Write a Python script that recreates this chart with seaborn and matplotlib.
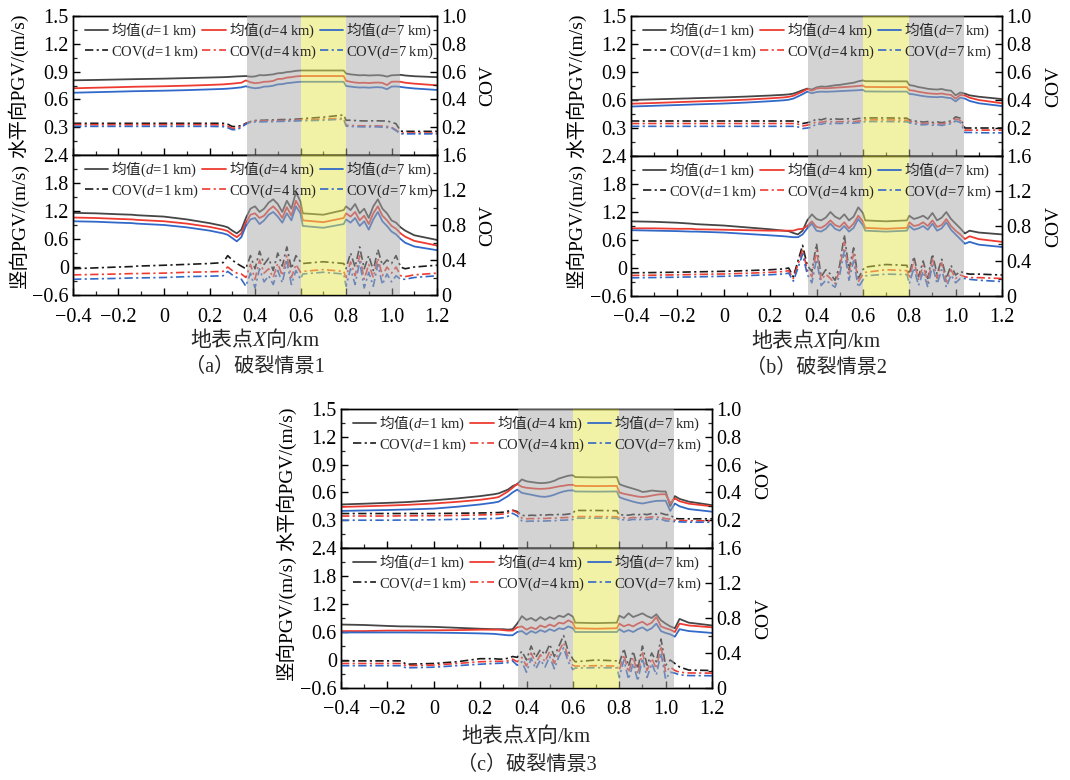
import matplotlib.pyplot as plt
import seaborn as sns
from matplotlib.ticker import FixedLocator, MultipleLocator, FuncFormatter

# x positions (km) shared by every curve
X = [-0.40, -0.30, -0.20, -0.14, -0.12, 0.00, 0.10, 0.20, 0.26, 0.28, 0.30, 0.32, 0.34, 0.36,
     0.38, 0.40, 0.42, 0.44, 0.46, 0.48, 0.50, 0.52, 0.54, 0.56, 0.58, 0.60,
     0.61, 0.70, 0.79,
     0.80, 0.82, 0.84, 0.86, 0.88, 0.90, 0.92, 0.94, 0.96, 0.98, 1.00, 1.02,
     1.04, 1.06, 1.10, 1.20]

# ---------------- scenario 1 ----------------
A_HOR_MEAN_D1 = [0.806, 0.810, 0.815, 0.818, 0.819, 0.824, 0.830, 0.836, 0.840, 0.842, 0.845, 0.848, 0.850, 0.852,
                 0.845, 0.848, 0.862, 0.860, 0.865, 0.870, 0.882, 0.885, 0.895, 0.900, 0.908, 0.912,
                 0.912, 0.912, 0.912,
                 0.880, 0.870, 0.865, 0.860, 0.862, 0.858, 0.860, 0.862, 0.858, 0.846, 0.860, 0.862,
                 0.865, 0.858, 0.850, 0.840]
A_HOR_MEAN_D4 = [0.720, 0.726, 0.732, 0.736, 0.737, 0.742, 0.748, 0.756, 0.762, 0.766, 0.770, 0.775, 0.780, 0.805,
                 0.785, 0.775, 0.780, 0.790, 0.792, 0.800, 0.820, 0.822, 0.835, 0.840, 0.848, 0.852,
                 0.852, 0.852, 0.852,
                 0.800, 0.790, 0.782, 0.778, 0.780, 0.776, 0.780, 0.782, 0.778, 0.755, 0.790, 0.792,
                 0.790, 0.780, 0.770, 0.752]
A_HOR_MEAN_D7 = [0.672, 0.678, 0.684, 0.688, 0.689, 0.694, 0.700, 0.708, 0.713, 0.716, 0.720, 0.725, 0.730, 0.742,
                 0.728, 0.720, 0.725, 0.738, 0.740, 0.748, 0.762, 0.765, 0.775, 0.780, 0.786, 0.790,
                 0.790, 0.790, 0.790,
                 0.745, 0.738, 0.732, 0.728, 0.730, 0.726, 0.730, 0.732, 0.728, 0.710, 0.738, 0.740,
                 0.735, 0.728, 0.718, 0.702]
A_HOR_COV_D1 = [0.228, 0.228, 0.228, 0.228, 0.228, 0.228, 0.228, 0.228, 0.228, 0.222, 0.205, 0.205, 0.212, 0.228,
                0.240, 0.248, 0.250, 0.250, 0.252, 0.252, 0.254, 0.255, 0.255, 0.256, 0.258, 0.260,
                0.262, 0.272, 0.288,
                0.250, 0.250, 0.248, 0.246, 0.245, 0.245, 0.246, 0.246, 0.245, 0.245, 0.236, 0.225,
                0.172, 0.170, 0.170, 0.170]
A_HOR_COV_D4 = [0.218, 0.218, 0.218, 0.218, 0.218, 0.218, 0.218, 0.218, 0.216, 0.208, 0.192, 0.192, 0.205, 0.225,
                0.240, 0.244, 0.244, 0.245, 0.246, 0.246, 0.247, 0.248, 0.248, 0.249, 0.250, 0.252,
                0.252, 0.258, 0.265,
                0.215, 0.212, 0.212, 0.210, 0.210, 0.210, 0.210, 0.210, 0.208, 0.206, 0.200, 0.180,
                0.158, 0.158, 0.158, 0.158]
A_HOR_COV_D7 = [0.206, 0.206, 0.206, 0.206, 0.206, 0.206, 0.206, 0.206, 0.204, 0.196, 0.182, 0.182, 0.198, 0.222,
                0.236, 0.238, 0.238, 0.239, 0.240, 0.240, 0.241, 0.242, 0.243, 0.244, 0.245, 0.246,
                0.246, 0.250, 0.258,
                0.208, 0.205, 0.204, 0.203, 0.202, 0.202, 0.203, 0.202, 0.200, 0.198, 0.195, 0.175,
                0.152, 0.152, 0.152, 0.152]
A_VER_MEAN_D1 = [1.16, 1.15, 1.13, 1.12, 1.11, 1.08, 1.02, 0.94, 0.88, 0.85, 0.78, 0.72, 0.80, 1.05,
                 1.25, 1.30, 1.18, 1.25, 1.38, 1.45, 1.35, 1.18, 1.42, 1.25, 1.60, 1.40,
                 1.15, 1.12, 1.22,
                 1.30, 1.22, 1.35, 1.15, 1.25, 1.05, 1.30, 1.45, 1.25, 1.15, 1.00, 0.95,
                 0.85, 0.78, 0.68, 0.58]
A_VER_MEAN_D4 = [1.06, 1.05, 1.03, 1.02, 1.01, 0.98, 0.93, 0.86, 0.80, 0.77, 0.70, 0.64, 0.72, 0.95,
                 1.12, 1.15, 1.05, 1.10, 1.22, 1.30, 1.20, 1.05, 1.28, 1.10, 1.42, 1.25,
                 1.00, 0.96, 1.05,
                 1.15, 1.08, 1.18, 1.00, 1.10, 0.92, 1.15, 1.30, 1.10, 1.00, 0.88, 0.82,
                 0.72, 0.65, 0.56, 0.46]
A_VER_MEAN_D7 = [0.98, 0.97, 0.95, 0.94, 0.93, 0.90, 0.85, 0.78, 0.72, 0.69, 0.62, 0.55, 0.64, 0.88,
                 1.02, 1.05, 0.92, 1.00, 1.12, 1.18, 1.08, 0.95, 1.15, 1.00, 1.30, 1.15,
                 0.88, 0.84, 0.92,
                 1.02, 0.95, 1.05, 0.88, 0.98, 0.80, 1.02, 1.18, 0.98, 0.88, 0.76, 0.70,
                 0.60, 0.52, 0.44, 0.36]
A_VER_COV_D1 = [0.30, 0.31, 0.32, 0.325, 0.33, 0.34, 0.35, 0.36, 0.37, 0.45, 0.40, 0.36, 0.33, 0.30,
                0.45, 0.30, 0.50, 0.35, 0.42, 0.28, 0.48, 0.33, 0.55, 0.30, 0.45, 0.38,
                0.36, 0.38, 0.36,
                0.30, 0.48, 0.32, 0.55, 0.30, 0.45, 0.28, 0.52, 0.34, 0.40, 0.36, 0.45,
                0.32, 0.30, 0.32, 0.34]
A_VER_COV_D4 = [0.23, 0.235, 0.24, 0.245, 0.245, 0.25, 0.26, 0.265, 0.27, 0.32, 0.28, 0.25, 0.24, 0.20,
                0.35, 0.18, 0.40, 0.25, 0.30, 0.20, 0.36, 0.22, 0.45, 0.20, 0.35, 0.26,
                0.27, 0.29, 0.27,
                0.20, 0.38, 0.22, 0.45, 0.18, 0.35, 0.20, 0.42, 0.22, 0.32, 0.25, 0.32,
                0.22, 0.21, 0.23, 0.25]
A_VER_COV_D7 = [0.18, 0.185, 0.19, 0.195, 0.195, 0.20, 0.21, 0.215, 0.22, 0.27, 0.23, 0.20, 0.18, 0.10,
                0.25, 0.08, 0.30, 0.15, 0.22, 0.12, 0.28, 0.14, 0.38, 0.12, 0.28, 0.18,
                0.24, 0.26, 0.24,
                0.10, 0.30, 0.12, 0.38, 0.08, 0.26, 0.10, 0.35, 0.12, 0.24, 0.15, 0.22,
                0.18, 0.18, 0.20, 0.22]

# ---------------- scenario 2 ----------------
B_HOR_MEAN_D1 = [0.600, 0.607, 0.614, 0.618, 0.620, 0.628, 0.637, 0.648, 0.656, 0.660, 0.668, 0.685, 0.705, 0.722,
                 0.712, 0.735, 0.745, 0.742, 0.750, 0.758, 0.762, 0.770, 0.778, 0.785, 0.800, 0.810,
                 0.802, 0.800, 0.800,
                 0.760, 0.752, 0.738, 0.730, 0.720, 0.715, 0.712, 0.718, 0.705, 0.700, 0.650, 0.680,
                 0.668, 0.650, 0.635, 0.610]
B_HOR_MEAN_D4 = [0.560, 0.568, 0.577, 0.582, 0.584, 0.593, 0.604, 0.618, 0.628, 0.634, 0.645, 0.668, 0.690, 0.718,
                 0.700, 0.722, 0.728, 0.725, 0.728, 0.732, 0.735, 0.738, 0.742, 0.745, 0.750, 0.755,
                 0.740, 0.738, 0.738,
                 0.705, 0.700, 0.688, 0.680, 0.672, 0.668, 0.665, 0.670, 0.660, 0.655, 0.615, 0.655,
                 0.648, 0.625, 0.600, 0.565]
B_HOR_MEAN_D7 = [0.530, 0.538, 0.546, 0.551, 0.553, 0.562, 0.573, 0.587, 0.597, 0.603, 0.615, 0.638, 0.662, 0.690,
                 0.672, 0.685, 0.690, 0.688, 0.690, 0.692, 0.695, 0.697, 0.700, 0.702, 0.705, 0.708,
                 0.692, 0.690, 0.690,
                 0.665, 0.660, 0.650, 0.642, 0.635, 0.632, 0.630, 0.634, 0.625, 0.620, 0.585, 0.625,
                 0.615, 0.590, 0.565, 0.535]
B_HOR_COV_D1 = [0.250, 0.250, 0.250, 0.250, 0.250, 0.250, 0.250, 0.250, 0.250, 0.250, 0.250, 0.245, 0.232, 0.238,
                0.245, 0.265, 0.258, 0.268, 0.262, 0.266, 0.262, 0.265, 0.266, 0.262, 0.268, 0.270,
                0.272, 0.272, 0.270,
                0.258, 0.250, 0.248, 0.242, 0.246, 0.240, 0.244, 0.238, 0.245, 0.250, 0.280, 0.270,
                0.200, 0.200, 0.200, 0.200]
B_HOR_COV_D4 = [0.232, 0.232, 0.232, 0.232, 0.232, 0.232, 0.232, 0.232, 0.232, 0.232, 0.232, 0.228, 0.215, 0.220,
                0.228, 0.245, 0.240, 0.248, 0.244, 0.246, 0.244, 0.246, 0.248, 0.245, 0.250, 0.252,
                0.258, 0.258, 0.256,
                0.248, 0.240, 0.238, 0.232, 0.236, 0.230, 0.234, 0.228, 0.236, 0.240, 0.265, 0.255,
                0.185, 0.185, 0.185, 0.185]
B_HOR_COV_D7 = [0.212, 0.212, 0.212, 0.212, 0.212, 0.212, 0.212, 0.212, 0.212, 0.212, 0.212, 0.208, 0.196, 0.200,
                0.205, 0.232, 0.226, 0.235, 0.230, 0.234, 0.232, 0.234, 0.236, 0.234, 0.238, 0.240,
                0.246, 0.246, 0.244,
                0.238, 0.230, 0.226, 0.222, 0.226, 0.220, 0.224, 0.218, 0.225, 0.230, 0.250, 0.240,
                0.168, 0.168, 0.166, 0.165]
B_VER_MEAN_D1 = [1.00, 0.99, 0.97, 0.95, 0.94, 0.91, 0.87, 0.83, 0.80, 0.79, 0.75, 0.72, 0.80, 1.02,
                 1.15, 1.05, 1.02, 1.08, 1.20, 1.10, 1.05, 1.15, 1.02, 1.10, 1.30, 1.18,
                 1.02, 1.00, 1.02,
                 1.12, 1.05, 1.08, 1.12, 1.05, 1.18, 1.02, 1.08, 1.20, 1.05, 0.95, 0.85,
                 0.74, 0.80, 0.76, 0.72]
B_VER_MEAN_D4 = [0.85, 0.85, 0.84, 0.84, 0.83, 0.82, 0.81, 0.80, 0.80, 0.80, 0.80, 0.83, 0.84, 0.90,
                 1.00, 0.88, 0.86, 0.92, 1.02, 0.92, 0.88, 0.98, 0.85, 0.95, 1.12, 1.00,
                 0.86, 0.84, 0.86,
                 0.98, 0.90, 0.92, 0.98, 0.90, 1.02, 0.88, 0.92, 1.05, 0.90, 0.80, 0.72,
                 0.62, 0.68, 0.62, 0.56]
B_VER_MEAN_D7 = [0.81, 0.80, 0.79, 0.78, 0.78, 0.76, 0.73, 0.70, 0.68, 0.67, 0.66, 0.66, 0.72, 0.85,
                 0.95, 0.80, 0.78, 0.84, 0.95, 0.84, 0.80, 0.90, 0.78, 0.86, 1.05, 0.92,
                 0.80, 0.78, 0.80,
                 0.90, 0.82, 0.85, 0.90, 0.82, 0.95, 0.80, 0.85, 0.98, 0.82, 0.72, 0.62,
                 0.52, 0.56, 0.50, 0.45]
B_VER_COV_D1 = [0.265, 0.268, 0.272, 0.275, 0.276, 0.282, 0.290, 0.300, 0.310, 0.320, 0.220, 0.400, 0.580, 0.350,
                0.280, 0.600, 0.220, 0.300, 0.250, 0.180, 0.350, 0.700, 0.300, 0.550, 0.200, 0.300,
                0.330, 0.360, 0.350,
                0.250, 0.450, 0.220, 0.400, 0.200, 0.480, 0.250, 0.420, 0.200, 0.350, 0.240, 0.280,
                0.260, 0.250, 0.250, 0.240]
B_VER_COV_D4 = [0.235, 0.238, 0.242, 0.245, 0.246, 0.252, 0.260, 0.270, 0.280, 0.290, 0.200, 0.360, 0.530, 0.300,
                0.220, 0.520, 0.180, 0.250, 0.200, 0.140, 0.300, 0.620, 0.250, 0.480, 0.160, 0.250,
                0.270, 0.300, 0.290,
                0.200, 0.400, 0.180, 0.350, 0.160, 0.420, 0.200, 0.380, 0.160, 0.300, 0.200, 0.240,
                0.220, 0.210, 0.210, 0.200]
B_VER_COV_D7 = [0.208, 0.211, 0.215, 0.218, 0.219, 0.225, 0.233, 0.243, 0.252, 0.262, 0.170, 0.320, 0.480, 0.250,
                0.150, 0.420, 0.120, 0.180, 0.140, 0.100, 0.240, 0.520, 0.180, 0.400, 0.100, 0.180,
                0.230, 0.250, 0.245,
                0.140, 0.320, 0.120, 0.280, 0.100, 0.350, 0.140, 0.300, 0.100, 0.240, 0.150, 0.200,
                0.200, 0.190, 0.180, 0.165]

# ---------------- scenario 3 ----------------
C_HOR_MEAN_D1 = [0.470, 0.478, 0.487, 0.493, 0.495, 0.515, 0.535, 0.560, 0.580, 0.590, 0.610, 0.630, 0.667, 0.690,
                 0.740, 0.720, 0.712, 0.705, 0.700, 0.702, 0.710, 0.725, 0.750, 0.765, 0.780, 0.785,
                 0.765, 0.762, 0.765,
                 0.690, 0.670, 0.655, 0.640, 0.625, 0.605, 0.610, 0.620, 0.615, 0.610, 0.610, 0.450,
                 0.560, 0.530, 0.500, 0.462]
C_HOR_MEAN_D4 = [0.443, 0.450, 0.458, 0.463, 0.465, 0.480, 0.498, 0.520, 0.540, 0.550, 0.580, 0.610, 0.650, 0.690,
                 0.660, 0.650, 0.645, 0.640, 0.638, 0.640, 0.645, 0.655, 0.665, 0.672, 0.680, 0.682,
                 0.670, 0.668, 0.670,
                 0.600, 0.585, 0.575, 0.565, 0.555, 0.550, 0.556, 0.565, 0.575, 0.580, 0.580, 0.485,
                 0.535, 0.505, 0.478, 0.450]
C_HOR_MEAN_D7 = [0.400, 0.405, 0.410, 0.414, 0.415, 0.425, 0.445, 0.470, 0.490, 0.500, 0.530, 0.560, 0.600, 0.630,
                 0.595, 0.585, 0.575, 0.565, 0.555, 0.552, 0.560, 0.575, 0.595, 0.610, 0.620, 0.622,
                 0.610, 0.608, 0.610,
                 0.550, 0.530, 0.515, 0.500, 0.488, 0.480, 0.490, 0.500, 0.508, 0.510, 0.510, 0.400,
                 0.480, 0.450, 0.420, 0.392]
C_HOR_COV_D1 = [0.248, 0.248, 0.248, 0.248, 0.248, 0.248, 0.250, 0.252, 0.254, 0.255, 0.258, 0.265, 0.272, 0.262,
                0.235, 0.232, 0.236, 0.234, 0.238, 0.236, 0.240, 0.238, 0.242, 0.240, 0.244, 0.250,
                0.270, 0.270, 0.268,
                0.235, 0.240, 0.236, 0.242, 0.238, 0.245, 0.240, 0.248, 0.242, 0.250, 0.240, 0.238,
                0.212, 0.210, 0.210, 0.210]
C_HOR_COV_D4 = [0.230, 0.230, 0.230, 0.231, 0.231, 0.232, 0.234, 0.238, 0.240, 0.242, 0.245, 0.252, 0.270, 0.255,
                0.215, 0.210, 0.212, 0.210, 0.214, 0.212, 0.215, 0.214, 0.218, 0.218, 0.220, 0.224,
                0.226, 0.226, 0.225,
                0.215, 0.218, 0.214, 0.220, 0.216, 0.222, 0.218, 0.224, 0.220, 0.222, 0.210, 0.208,
                0.200, 0.198, 0.196, 0.195]
C_HOR_COV_D7 = [0.200, 0.200, 0.200, 0.201, 0.201, 0.203, 0.206, 0.210, 0.212, 0.214, 0.218, 0.228, 0.250, 0.232,
                0.195, 0.192, 0.194, 0.192, 0.195, 0.194, 0.196, 0.196, 0.200, 0.200, 0.202, 0.205,
                0.214, 0.215, 0.214,
                0.200, 0.204, 0.200, 0.206, 0.202, 0.208, 0.204, 0.210, 0.206, 0.208, 0.195, 0.193,
                0.190, 0.188, 0.186, 0.185]
C_VER_MEAN_D1 = [0.76, 0.75, 0.73, 0.72, 0.72, 0.71, 0.69, 0.67, 0.66, 0.66, 0.66, 0.65, 0.66, 0.78,
                 0.94, 0.86, 0.90, 0.84, 0.92, 0.86, 0.92, 0.88, 0.95, 0.92, 0.99, 0.93,
                 0.80, 0.79, 0.80,
                 0.95, 0.90, 1.00, 0.92, 0.96, 1.00, 0.94, 0.90, 0.98, 0.85, 0.78, 0.72,
                 0.68, 0.88, 0.80, 0.74]
C_VER_MEAN_D4 = [0.62, 0.62, 0.63, 0.63, 0.63, 0.636, 0.64, 0.65, 0.65, 0.65, 0.64, 0.63, 0.63, 0.70,
                 0.72, 0.65, 0.70, 0.66, 0.74, 0.70, 0.76, 0.72, 0.80, 0.78, 0.85, 0.80,
                 0.68, 0.67, 0.68,
                 0.78, 0.72, 0.76, 0.72, 0.78, 0.82, 0.75, 0.80, 0.92, 0.72, 0.68, 0.65,
                 0.60, 0.78, 0.74, 0.70]
C_VER_MEAN_D7 = [0.59, 0.59, 0.59, 0.59, 0.59, 0.586, 0.58, 0.57, 0.56, 0.55, 0.54, 0.53, 0.53, 0.60,
                 0.62, 0.55, 0.62, 0.58, 0.64, 0.60, 0.66, 0.62, 0.68, 0.66, 0.72, 0.68,
                 0.60, 0.60, 0.60,
                 0.66, 0.60, 0.64, 0.60, 0.66, 0.70, 0.63, 0.68, 0.78, 0.62, 0.58, 0.55,
                 0.50, 0.66, 0.62, 0.58]
C_VER_COV_D1 = [0.310, 0.310, 0.310, 0.310, 0.272, 0.280, 0.300, 0.335, 0.335, 0.330, 0.330, 0.340, 0.360, 0.350,
                0.420, 0.320, 0.480, 0.350, 0.440, 0.380, 0.500, 0.360, 0.480, 0.600, 0.420, 0.330,
                0.300, 0.320, 0.310,
                0.280, 0.450, 0.250, 0.420, 0.220, 0.480, 0.260, 0.400, 0.300, 0.560, 0.260, 0.320,
                0.280, 0.240, 0.205, 0.200]
C_VER_COV_D4 = [0.280, 0.280, 0.280, 0.280, 0.255, 0.262, 0.280, 0.300, 0.305, 0.305, 0.305, 0.310, 0.330, 0.300,
                0.350, 0.250, 0.400, 0.280, 0.380, 0.300, 0.420, 0.280, 0.420, 0.520, 0.350, 0.260,
                0.250, 0.255, 0.250,
                0.200, 0.380, 0.180, 0.350, 0.160, 0.400, 0.200, 0.340, 0.220, 0.480, 0.180, 0.240,
                0.200, 0.180, 0.172, 0.170]
C_VER_COV_D7 = [0.255, 0.255, 0.255, 0.255, 0.230, 0.238, 0.255, 0.272, 0.280, 0.282, 0.285, 0.290, 0.310, 0.260,
                0.300, 0.180, 0.340, 0.220, 0.320, 0.240, 0.360, 0.220, 0.360, 0.460, 0.300, 0.210,
                0.228, 0.232, 0.230,
                0.120, 0.320, 0.100, 0.280, 0.080, 0.340, 0.120, 0.280, 0.150, 0.400, 0.100, 0.180,
                0.170, 0.150, 0.142, 0.140]

DISTANCES = ["1", "4", "7"]
GRAY_ZONE = (0.365, 1.038)
YELLOW_ZONE = (0.60, 0.80)
CAPTIONS = ["（a）破裂情景1", "（b）破裂情景2", "（c）破裂情景3"]

MEAN_COLORS = ["#464646", "#ee3b32", "#3269c8"]
COV_COLORS = ["#1a1a1a", "#ee3b32", "#3269c8"]
COV_DASH = (0, (5, 2, 1.3, 2))

sns.set_theme(style="ticks")
plt.rcParams["font.family"] = ["Liberation Serif", "Noto Sans CJK SC"]
plt.rcParams["mathtext.fontset"] = "custom"
plt.rcParams["mathtext.rm"] = "Liberation Serif"
plt.rcParams["mathtext.it"] = "Liberation Serif:italic"
plt.rcParams["mathtext.bf"] = "Liberation Serif:bold"
plt.rcParams["axes.edgecolor"] = "black"
plt.rcParams["axes.linewidth"] = 1.0
plt.rcParams["xtick.direction"] = "in"
plt.rcParams["ytick.direction"] = "in"

W, H = 1070, 780


def px_rect(x0, y0, x1, y1):
    return [x0 / W, 1 - y1 / H, (x1 - x0) / W, (y1 - y0) / H]


def tick_fmt(v, pos):
    if abs(v) < 1e-9:
        return "0"
    return f"{v:.1f}".replace("-", "\u2212")


def draw_sub(fig, rect, means, covs, kind):
    ax = fig.add_axes(rect)
    ax2 = ax.twinx()
    handles = []
    for i in range(3):
        sns.lineplot(x=X, y=means[i], ax=ax, color=MEAN_COLORS[i], linewidth=1.3, legend=False)
        sns.lineplot(x=X, y=covs[i], ax=ax2, color=COV_COLORS[i], linewidth=1.2,
                     linestyle=COV_DASH, legend=False, zorder=2)
        handles.append(ax.get_lines()[-1])
        handles.append(ax2.get_lines()[-1])
    labels = []
    for d in DISTANCES:
        labels.append("均值" + r"$\mathrm{(}d\!\mathrm{=}\!\mathrm{" + d + r"\ km)}$")
        labels.append(r"$\mathrm{COV(}d\!\mathrm{=}\!\mathrm{" + d + r"\ km)}$")

    # shaded zones are laid over the curves
    ax2.axvspan(GRAY_ZONE[0], YELLOW_ZONE[0], color="#a8a8a8", alpha=0.5, lw=0, zorder=3)
    ax2.axvspan(YELLOW_ZONE[1], GRAY_ZONE[1], color="#a8a8a8", alpha=0.5, lw=0, zorder=3)
    ax2.axvspan(YELLOW_ZONE[0], YELLOW_ZONE[1], color="#e6e650", alpha=0.5, lw=0, zorder=3)

    ax.set_xlim(-0.4, 1.2)
    ax.xaxis.set_major_locator(MultipleLocator(0.2))
    ax.xaxis.set_minor_locator(MultipleLocator(0.1))
    ax.xaxis.set_major_formatter(FuncFormatter(tick_fmt))
    if kind == "hor":
        ax.set_ylim(0, 1.5)
        ax.yaxis.set_major_locator(FixedLocator([0.3, 0.6, 0.9, 1.2, 1.5]))
        ax.yaxis.set_minor_locator(MultipleLocator(0.15))
        ax2.set_ylim(0, 1.0)
        ax2.yaxis.set_major_locator(FixedLocator([0.2, 0.4, 0.6, 0.8, 1.0]))
        ax2.yaxis.set_minor_locator(MultipleLocator(0.1))
        ylabel = "水平向PGV/(m/s)"
    else:
        ax.set_ylim(-0.6, 2.4)
        ax.yaxis.set_major_locator(FixedLocator([-0.6, 0, 0.6, 1.2, 1.8, 2.4]))
        ax.yaxis.set_minor_locator(MultipleLocator(0.3))
        ax2.set_ylim(0, 1.6)
        ax2.yaxis.set_major_locator(FixedLocator([0, 0.4, 0.8, 1.2, 1.6]))
        ax2.yaxis.set_minor_locator(MultipleLocator(0.2))
        ylabel = "竖向PGV/(m/s)"
    ax.yaxis.set_major_formatter(FuncFormatter(tick_fmt))
    ax2.yaxis.set_major_formatter(FuncFormatter(tick_fmt))

    for a in (ax, ax2):
        a.tick_params(which="major", length=5, width=1.0, labelsize=14.5, pad=3, colors="black")
        a.tick_params(which="minor", length=3, width=0.9)
        for s in a.spines.values():
            s.set_linewidth(1.0)
            s.set_color("black")
    ax.tick_params(axis="both", which="both", top=False, right=False)
    ax.tick_params(axis="x", which="major", pad=9)
    if kind == "hor":
        ax.tick_params(axis="x", labelbottom=False)

    ax.set_ylabel(ylabel, fontsize=14, color="black")
    ax.yaxis.set_label_coords(-0.122, 0.5)
    ax2.set_ylabel("COV", fontsize=14, color="black")
    ax2.yaxis.set_label_coords(1.117, 0.5)
    ax.set_xlabel("")
    ax.grid(False)
    ax2.grid(False)

    leg = ax2.legend(handles, labels, loc="upper left", bbox_to_anchor=(0.018, 1.0), ncol=3,
                     frameon=False, prop={"family": "Noto Sans CJK SC", "size": 10.5},
                     handlelength=1.6, handletextpad=0.2, columnspacing=0.25,
                     labelspacing=0.2, borderaxespad=0.15, borderpad=0.2)
    leg.set_zorder(6)
    return ax


PANELS = [
    dict(top=(73, 16, 437, 155), bot=(73, 155, 437, 295), xlab_y=339, cap_y=367,
         hor_mean=[A_HOR_MEAN_D1, A_HOR_MEAN_D4, A_HOR_MEAN_D7],
         hor_cov=[A_HOR_COV_D1, A_HOR_COV_D4, A_HOR_COV_D7],
         ver_mean=[A_VER_MEAN_D1, A_VER_MEAN_D4, A_VER_MEAN_D7],
         ver_cov=[A_VER_COV_D1, A_VER_COV_D4, A_VER_COV_D7]),
    dict(top=(631, 16, 1002, 156), bot=(631, 156, 1002, 296), xlab_y=340, cap_y=368,
         hor_mean=[B_HOR_MEAN_D1, B_HOR_MEAN_D4, B_HOR_MEAN_D7],
         hor_cov=[B_HOR_COV_D1, B_HOR_COV_D4, B_HOR_COV_D7],
         ver_mean=[B_VER_MEAN_D1, B_VER_MEAN_D4, B_VER_MEAN_D7],
         ver_cov=[B_VER_COV_D1, B_VER_COV_D4, B_VER_COV_D7]),
    dict(top=(341, 409, 712, 548), bot=(341, 548, 712, 688), xlab_y=735, cap_y=765,
         hor_mean=[C_HOR_MEAN_D1, C_HOR_MEAN_D4, C_HOR_MEAN_D7],
         hor_cov=[C_HOR_COV_D1, C_HOR_COV_D4, C_HOR_COV_D7],
         ver_mean=[C_VER_MEAN_D1, C_VER_MEAN_D4, C_VER_MEAN_D7],
         ver_cov=[C_VER_COV_D1, C_VER_COV_D4, C_VER_COV_D7]),
]

for p in PANELS:
    for key in ("hor_mean", "hor_cov", "ver_mean", "ver_cov"):
        for series in p[key]:
            if len(series) != len(X):
                raise ValueError(f"length mismatch in {key}: {len(series)}")

fig = plt.figure(figsize=(10.7, 7.8), dpi=100)
fig.patch.set_facecolor("white")

for p, cap in zip(PANELS, CAPTIONS):
    draw_sub(fig, px_rect(*p["top"]), p["hor_mean"], p["hor_cov"], "hor")
    draw_sub(fig, px_rect(*p["bot"]), p["ver_mean"], p["ver_cov"], "ver")
    cx = (p["top"][0] + p["top"][2]) / 2 / W
    fig.text(cx, 1 - p["xlab_y"] / H, "地表点" + r"$X$" + "向" + r"$\mathrm{/km}$",
             ha="center", va="center", fontsize=15, family="Noto Sans CJK SC")
    fig.text(cx, 1 - p["cap_y"] / H, cap, ha="center", va="center", fontsize=14.5)

fig.savefig("out.png", dpi=100, facecolor="white")
